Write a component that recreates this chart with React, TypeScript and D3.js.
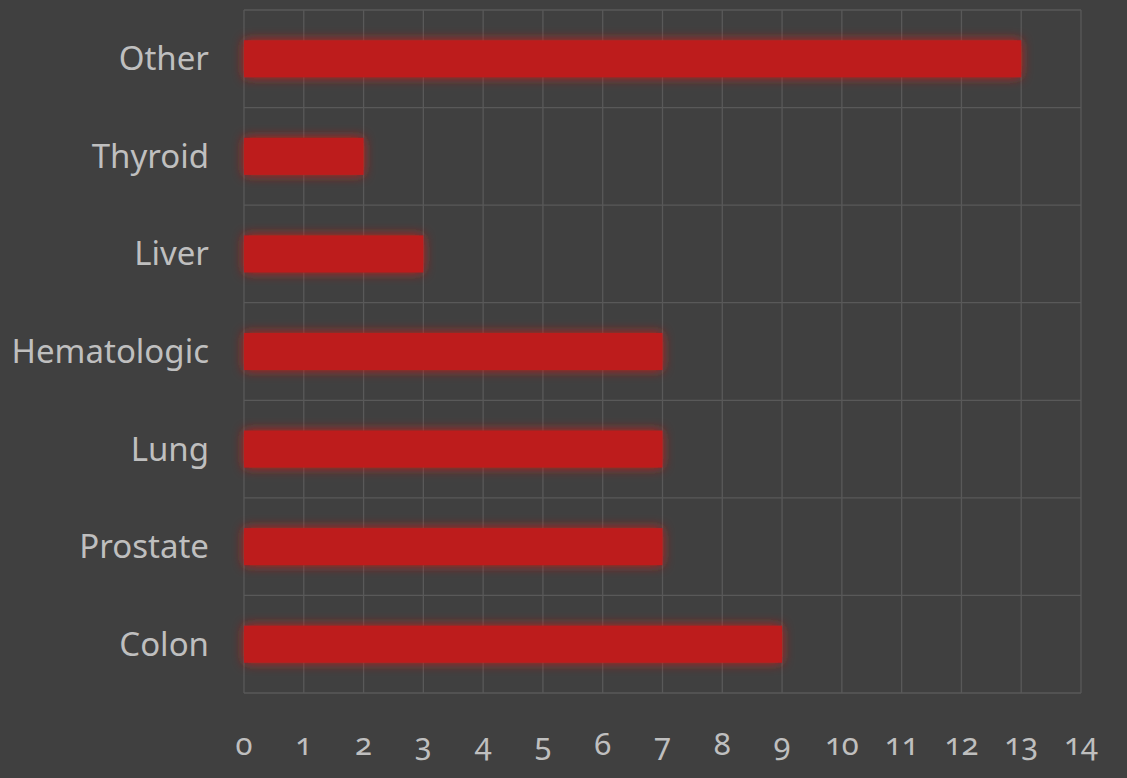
import React from 'react';
import * as d3 from 'd3';

const categories = ['Other', 'Thyroid', 'Liver', 'Hematologic', 'Lung', 'Prostate', 'Colon'];
const values = [13, 2, 3, 7, 7, 7, 9];
const xTicks = d3.range(0, 15);

const W = 1127;
const H = 778;
const margin = { top: 10, right: 46, bottom: 85, left: 244 };

const App: React.FC = () => {
  const x = d3.scaleLinear().domain([0, 14]).range([margin.left, W - margin.right]);
  const y = d3
    .scaleBand<string>()
    .domain(categories)
    .range([margin.top, H - margin.bottom])
    .paddingInner(0.62)
    .paddingOuter(0.31);

  // band boundaries for the horizontal grid
  const step = y.step();
  const bandLines = d3.range(0, categories.length + 1).map((i) => margin.top + i * step);

  const font = '"Noto Sans", "Open Sans", sans-serif';

  return (
    <svg
      width={W}
      height={H}
      style={{ position: 'absolute', left: 0, top: 0, background: '#404040' }}
    >
      <defs>
        <filter id="glow" x="-20%" y="-80%" width="140%" height="260%">
          <feGaussianBlur in="SourceAlpha" stdDeviation="6" result="blur" />
          <feFlood floodColor="#c4201c" floodOpacity="1" />
          <feComposite in2="blur" operator="in" result="shadow" />
          <feMerge>
            <feMergeNode in="shadow" />
            <feMergeNode in="SourceGraphic" />
          </feMerge>
        </filter>
      </defs>
      <rect x={0} y={0} width={W} height={H} fill="#404040" />

      {/* grid */}
      <g stroke="#595959" strokeWidth={1.3}>
        {xTicks.map((t) => (
          <line key={`v-${t}`} x1={x(t)} x2={x(t)} y1={margin.top} y2={H - margin.bottom} />
        ))}
        {bandLines.map((v, i) => (
          <line key={`h-${i}`} x1={margin.left} x2={W - margin.right} y1={v} y2={v} />
        ))}
      </g>

      {/* bars */}
      <g filter="url(#glow)">
        {categories.map((c, i) => (
          <rect
            key={c}
            x={x(0)}
            y={y(c)!}
            width={x(values[i]) - x(0)}
            height={y.bandwidth()}
            fill="#bd1d1e"
          />
        ))}
      </g>

      {/* category labels */}
      <g fontFamily={font} fontSize={33} fill="#bfbfbf" textAnchor="end">
        {categories.map((c) => (
          <text key={c} x={margin.left - 35} y={y(c)! + y.bandwidth() / 2} dy="0.35em">
            {c}
          </text>
        ))}
      </g>

      {/* x tick labels */}
      <g
        fontFamily={font}
        fontSize={31}
        fill="#bfbfbf"
        textAnchor="middle"
        style={{ fontVariantNumeric: 'oldstyle-nums' }}
      >
        {xTicks.map((t) => (
          <text key={t} x={x(t)} y={755}>
            {t}
          </text>
        ))}
      </g>
    </svg>
  );
};

export default App;
